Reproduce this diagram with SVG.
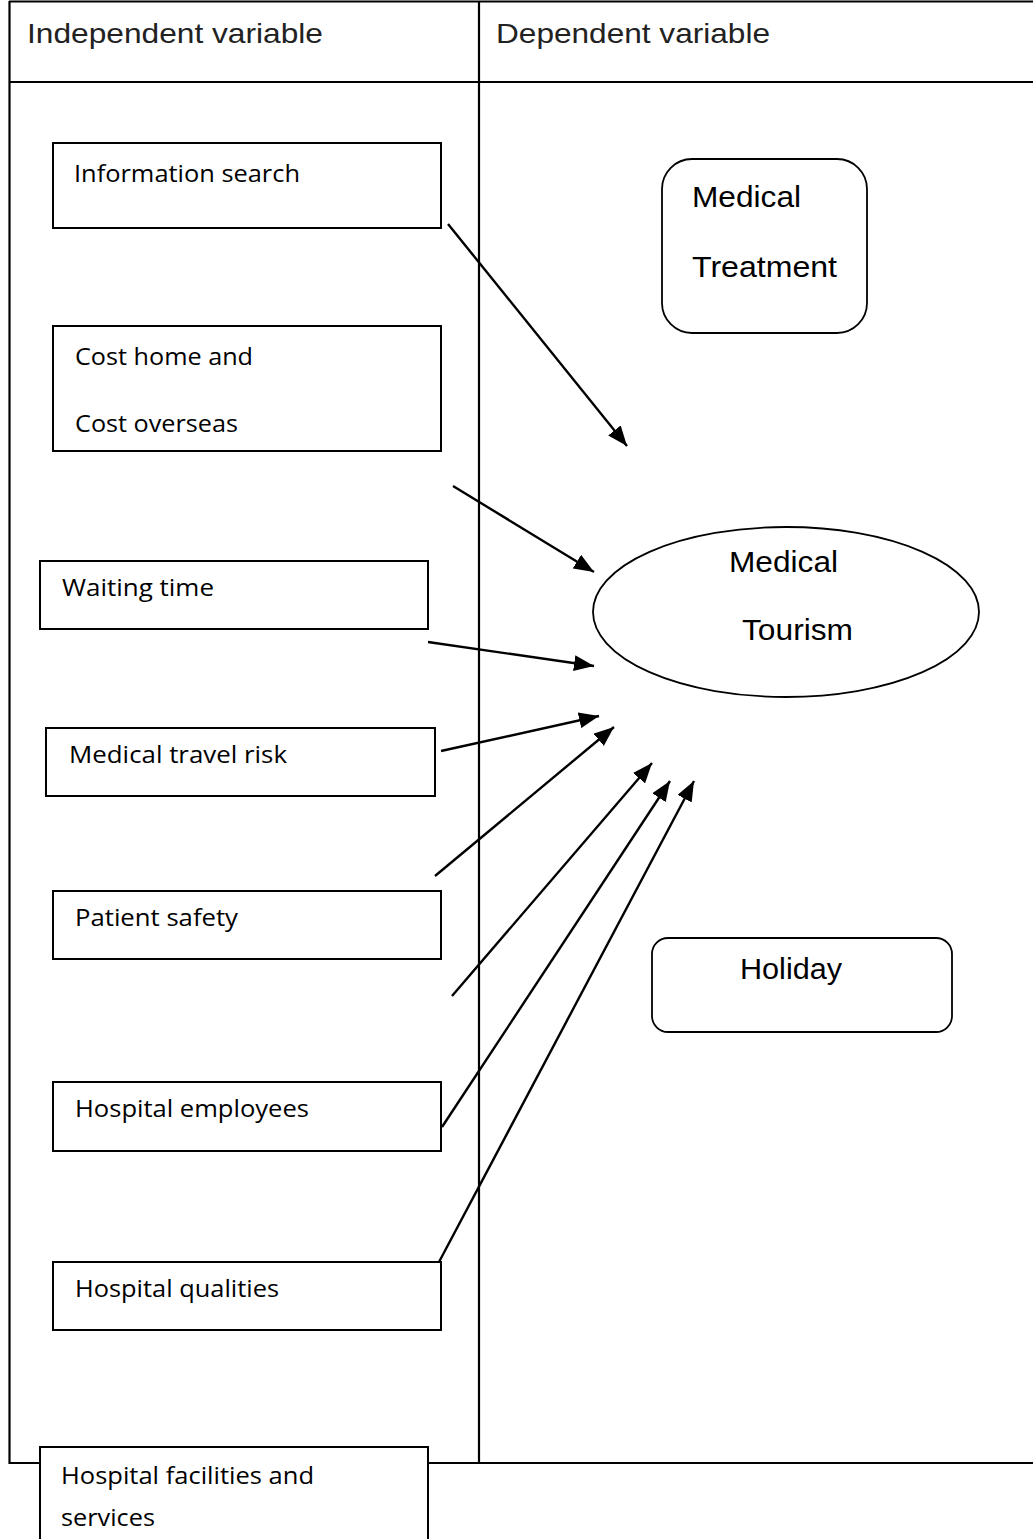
<svg xmlns="http://www.w3.org/2000/svg" width="1033" height="1539" viewBox="0 0 1033 1539">
<style>
.tbl{stroke:#000;stroke-width:2.2;fill:none}
.box{fill:#fff;stroke:#000;stroke-width:2}
.rbox{fill:#fff;stroke:#000;stroke-width:1.8}
.hd{font-family:"Liberation Sans",Arial,sans-serif;font-size:28px;fill:#222}
.ar{font-family:"Liberation Sans",Arial,sans-serif;font-size:30px;fill:#000}
.cb{font-family:"Open Sans","Noto Sans",sans-serif;font-size:23px;fill:#000}
.conn line{stroke:#000;stroke-width:2.4}
</style>
<defs>
<marker id="ah" markerUnits="userSpaceOnUse" markerWidth="22" markerHeight="16" refX="20" refY="8" orient="auto">
<path d="M0,0 L20,8 L0,16 z" fill="#000"/>
</marker>
</defs>
<rect width="1033" height="1539" fill="#fff"/>
<g id="table">
<line class="tbl" x1="9" y1="1.5" x2="1033" y2="1.5"/>
<line class="tbl" x1="9" y1="82" x2="1033" y2="82"/>
<line class="tbl" x1="9" y1="1463" x2="1033" y2="1463"/>
<line class="tbl" x1="9.5" y1="1" x2="9.5" y2="1464"/>
<line class="tbl" x1="479" y1="1" x2="479" y2="1464"/>
<text class="hd" x="27" y="43" textLength="296" lengthAdjust="spacingAndGlyphs">Independent variable</text>
<text class="hd" x="496" y="43" textLength="274" lengthAdjust="spacingAndGlyphs">Dependent variable</text>
</g>
<g class="conn" id="connectors">
<line x1="448" y1="224" x2="627" y2="446" marker-end="url(#ah)"/>
<line x1="453" y1="486" x2="594" y2="572" marker-end="url(#ah)"/>
<line x1="428" y1="642" x2="594" y2="666" marker-end="url(#ah)"/>
<line x1="441" y1="751" x2="599" y2="716" marker-end="url(#ah)"/>
<line x1="435" y1="876" x2="614" y2="727" marker-end="url(#ah)"/>
<line x1="452" y1="996" x2="652" y2="763" marker-end="url(#ah)"/>
<line x1="442" y1="1127" x2="670" y2="781" marker-end="url(#ah)"/>
<line x1="439" y1="1262" x2="694" y2="781" marker-end="url(#ah)"/>
</g>
<g id="n-info">
<rect class="box" x="53" y="143" width="388" height="85"/>
<text class="cb" x="74" y="182" textLength="226" lengthAdjust="spacingAndGlyphs">Information search</text>
</g>
<g id="n-cost">
<rect class="box" x="53" y="326" width="388" height="125"/>
<text class="cb" x="75" y="365" textLength="178" lengthAdjust="spacingAndGlyphs">Cost home and</text>
<text class="cb" x="75" y="432" textLength="163" lengthAdjust="spacingAndGlyphs">Cost overseas</text>
</g>
<g id="n-wait">
<rect class="box" x="40" y="561" width="388" height="68"/>
<text class="cb" x="62" y="596" textLength="152" lengthAdjust="spacingAndGlyphs">Waiting time</text>
</g>
<g id="n-risk">
<rect class="box" x="46" y="728" width="389" height="68"/>
<text class="cb" x="69" y="763" textLength="218" lengthAdjust="spacingAndGlyphs">Medical travel risk</text>
</g>
<g id="n-safety">
<rect class="box" x="53" y="891" width="388" height="68"/>
<text class="cb" x="75" y="926" textLength="163" lengthAdjust="spacingAndGlyphs">Patient safety</text>
</g>
<g id="n-employees">
<rect class="box" x="53" y="1082" width="388" height="69"/>
<text class="cb" x="75" y="1117" textLength="234" lengthAdjust="spacingAndGlyphs">Hospital employees</text>
</g>
<g id="n-qualities">
<rect class="box" x="53" y="1262" width="388" height="68"/>
<text class="cb" x="75" y="1297" textLength="204" lengthAdjust="spacingAndGlyphs">Hospital qualities</text>
</g>
<g id="n-facilities">
<rect class="box" x="40" y="1447" width="388" height="110"/>
<text class="cb" x="61" y="1484" textLength="253" lengthAdjust="spacingAndGlyphs">Hospital facilities and</text>
<text class="cb" x="61" y="1526" textLength="94" lengthAdjust="spacingAndGlyphs">services</text>
</g>
<g id="n-treatment">
<rect class="rbox" x="662" y="159" width="205" height="174" rx="30" ry="30"/>
<text class="ar" x="692" y="207" textLength="109" lengthAdjust="spacingAndGlyphs">Medical</text>
<text class="ar" x="692" y="277" textLength="145" lengthAdjust="spacingAndGlyphs">Treatment</text>
</g>
<g id="n-tourism">
<ellipse class="rbox" cx="786" cy="612" rx="193" ry="85"/>
<text class="ar" x="729" y="572" textLength="109" lengthAdjust="spacingAndGlyphs">Medical</text>
<text class="ar" x="742" y="640" textLength="111" lengthAdjust="spacingAndGlyphs">Tourism</text>
</g>
<g id="n-holiday">
<rect class="rbox" x="652" y="938" width="300" height="94" rx="16" ry="16"/>
<text class="ar" x="740" y="979" textLength="102" lengthAdjust="spacingAndGlyphs">Holiday</text>
</g>
</svg>
